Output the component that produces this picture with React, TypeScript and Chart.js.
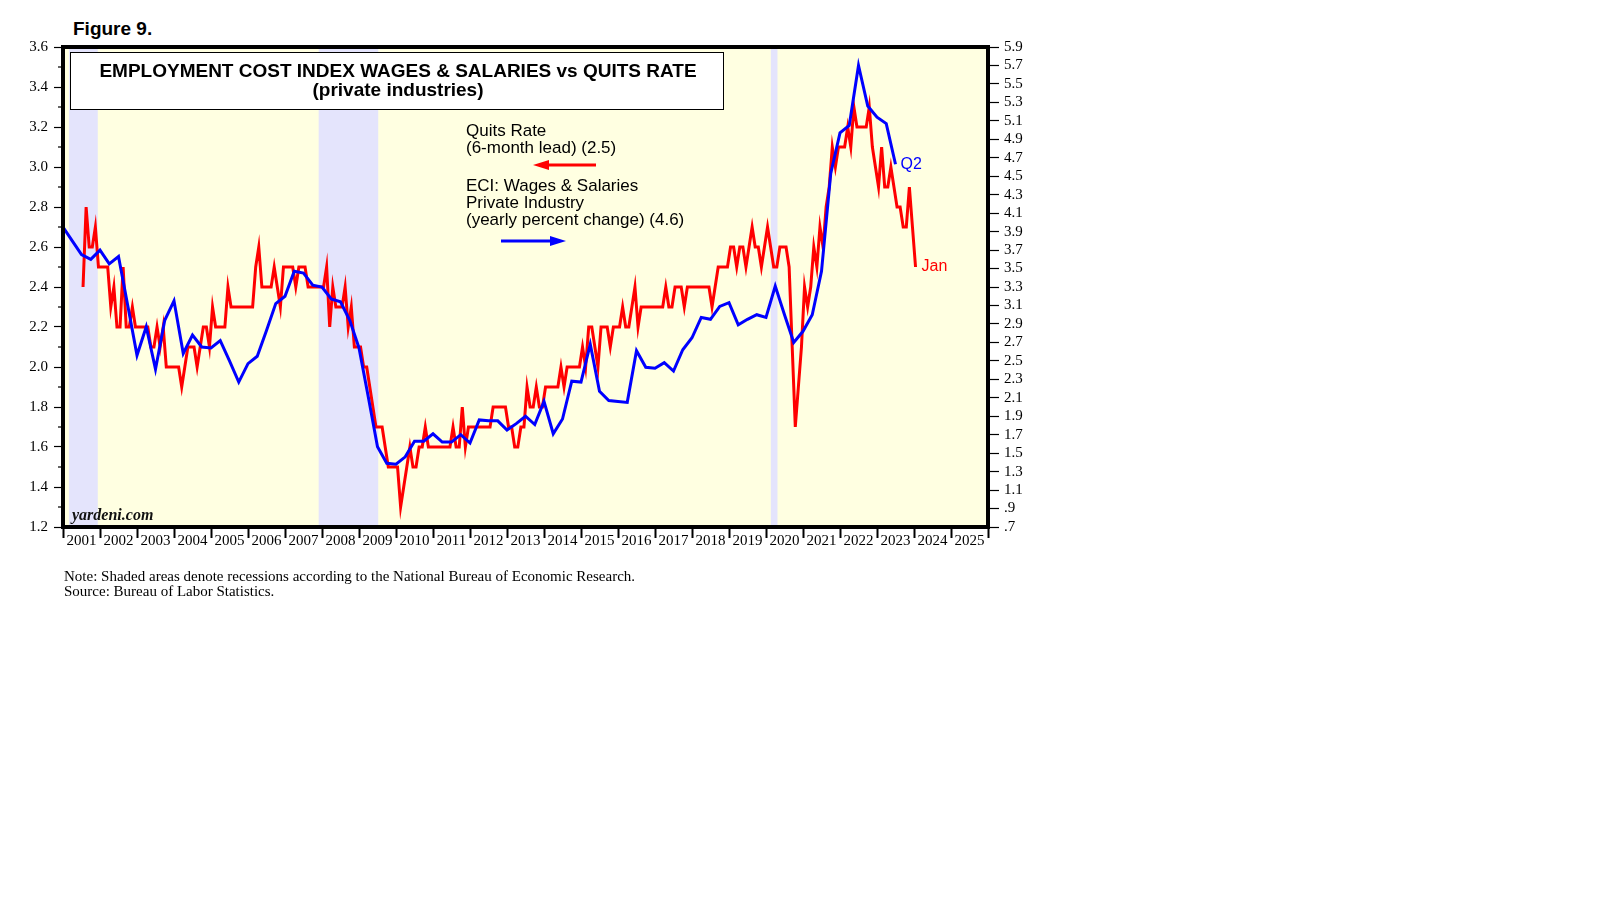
import React, { useEffect, useRef } from 'react'
import { Chart, registerables } from 'chart.js'

Chart.register(...registerables)

// Quits rate, private industries (%), monthly, plotted with a 6-month lead.
// First plotted month is Jul 2001 (Jan 2001 data), last is Jan 2024.
const quitsStartYear = 2001
const quitsStartMonth = 7
const quitsRate = [
  2.4, 2.8, 2.6, 2.6, 2.7, 2.5, 2.5, 2.5, 2.5, 2.3, 2.4, 2.2,
  2.2, 2.5, 2.2, 2.2, 2.3, 2.2, 2.2, 2.2, 2.2, 2.2, 2.1, 2.1,
  2.2, 2.1, 2.2, 2.0, 2.0, 2.0, 2.0, 2.0, 1.9, 2.0, 2.1, 2.1,
  2.1, 2.0, 2.1, 2.2, 2.2, 2.1, 2.3, 2.2, 2.2, 2.2, 2.2, 2.4,
  2.3, 2.3, 2.3, 2.3, 2.3, 2.3, 2.3, 2.3, 2.5, 2.6, 2.4, 2.4,
  2.4, 2.4, 2.5, 2.4, 2.3, 2.5, 2.5, 2.5, 2.5, 2.4, 2.5, 2.5,
  2.5, 2.4, 2.4, 2.4, 2.4, 2.4, 2.4, 2.5, 2.2, 2.4, 2.3, 2.3,
  2.3, 2.4, 2.2, 2.3, 2.1, 2.1, 2.1, 2.0, 2.0, 1.9, 1.8, 1.7,
  1.7, 1.7, 1.6, 1.5, 1.5, 1.5, 1.5, 1.3, 1.4, 1.5, 1.6, 1.5,
  1.5, 1.6, 1.6, 1.7, 1.6, 1.6, 1.6, 1.6, 1.6, 1.6, 1.6, 1.6,
  1.7, 1.6, 1.6, 1.8, 1.6, 1.7, 1.7, 1.7, 1.7, 1.7, 1.7, 1.7,
  1.7, 1.8, 1.8, 1.8, 1.8, 1.8, 1.7, 1.7, 1.6, 1.6, 1.7, 1.7,
  1.9, 1.8, 1.8, 1.9, 1.8, 1.8, 1.9, 1.9, 1.9, 1.9, 1.9, 2.0,
  1.9, 2.0, 2.0, 2.0, 2.0, 2.0, 2.1, 2.0, 2.2, 2.2, 2.1, 2.0,
  2.2, 2.2, 2.2, 2.1, 2.2, 2.2, 2.2, 2.3, 2.2, 2.2, 2.3, 2.4,
  2.2, 2.3, 2.3, 2.3, 2.3, 2.3, 2.3, 2.3, 2.3, 2.4, 2.3, 2.3,
  2.4, 2.4, 2.4, 2.3, 2.4, 2.4, 2.4, 2.4, 2.4, 2.4, 2.4, 2.4,
  2.3, 2.4, 2.5, 2.5, 2.5, 2.5, 2.6, 2.6, 2.5, 2.6, 2.6, 2.5,
  2.6, 2.7, 2.6, 2.6, 2.5, 2.6, 2.7, 2.6, 2.5, 2.5, 2.6, 2.6,
  2.6, 2.5, 2.1, 1.7, 1.9, 2.1, 2.4, 2.3, 2.4, 2.6, 2.5, 2.7,
  2.6, 2.8, 2.9, 3.1, 3.0, 3.1, 3.1, 3.1, 3.2, 3.1, 3.3, 3.2,
  3.2, 3.2, 3.2, 3.3, 3.1, 3.0, 2.9, 3.1, 2.9, 2.9, 3.0, 2.9,
  2.8, 2.8, 2.7, 2.7, 2.9, 2.7, 2.5,
]

// ECI wages & salaries, private industry, yearly % change, quarterly.
// Q4 2000 sits at the start of 2001, Q2 2023 is the last point.
const eciStart = 2001
const eciWages = [
  3.95, 3.8, 3.65, 3.6, 3.7, 3.55, 3.63, 3.1, 2.56, 2.87,
  2.41, 2.94, 3.15, 2.58, 2.78, 2.65, 2.64, 2.72, 2.5, 2.27,
  2.47, 2.55, 2.83, 3.12, 3.2, 3.47, 3.45, 3.32, 3.3, 3.17,
  3.14, 2.94, 2.64, 2.11, 1.57, 1.39, 1.38, 1.46, 1.63, 1.63,
  1.71, 1.62, 1.62, 1.7, 1.61, 1.86, 1.85, 1.85, 1.75, 1.82,
  1.9, 1.81, 2.06, 1.71, 1.87, 2.28, 2.27, 2.68, 2.17, 2.07,
  2.06, 2.05, 2.61, 2.43, 2.42, 2.48, 2.39, 2.62, 2.75, 2.97,
  2.95, 3.09, 3.13, 2.89, 2.95, 3.0, 2.97, 3.31, 3.0, 2.7,
  2.82, 3.0, 3.47, 4.53, 4.97, 5.05, 5.7, 5.26, 5.14, 5.07, 4.63,
]

const recessionStarts = [2001.16, 2007.91, 2020.13]
const recessionEnds = [2001.94, 2009.52, 2020.31]

const yearLabels = [
  '2001', '2002', '2003', '2004', '2005', '2006', '2007', '2008', '2009',
  '2010', '2011', '2012', '2013', '2014', '2015', '2016', '2017', '2018',
  '2019', '2020', '2021', '2022', '2023', '2024', '2025',
]
const leftTicks = [1.2, 1.4, 1.6, 1.8, 2.0, 2.2, 2.4, 2.6, 2.8, 3.0, 3.2, 3.4, 3.6]
const leftMinorTicks = [1.3, 1.5, 1.7, 1.9, 2.1, 2.3, 2.5, 2.7, 2.9, 3.1, 3.3, 3.5]
const rightTicks = [
  0.7, 0.9, 1.1, 1.3, 1.5, 1.7, 1.9, 2.1, 2.3, 2.5, 2.7, 2.9, 3.1, 3.3,
  3.5, 3.7, 3.9, 4.1, 4.3, 4.5, 4.7, 4.9, 5.1, 5.3, 5.5, 5.7, 5.9,
]

const SANS = "'Liberation Sans', Arial, sans-serif"
const SERIF = "'Liberation Serif', 'Times New Roman', serif"

const drawArrow = (ctx, from, to, y, color) => {
  const dir = Math.sign(to - from)
  ctx.strokeStyle = color
  ctx.fillStyle = color
  ctx.lineWidth = 3
  ctx.beginPath()
  ctx.moveTo(from, y)
  ctx.lineTo(to - dir * 12, y)
  ctx.stroke()
  ctx.beginPath()
  ctx.moveTo(to, y)
  ctx.lineTo(to - dir * 16, y - 5)
  ctx.lineTo(to - dir * 16, y + 5)
  ctx.closePath()
  ctx.fill()
}

const decorPlugin = {
  id: 'decor',
  beforeDatasetsDraw(chart) {
    const { ctx, chartArea: a, scales } = chart
    ctx.save()
    ctx.fillStyle = 'rgb(255,255,225)'
    ctx.fillRect(a.left, a.top, a.right - a.left, a.bottom - a.top)
    ctx.fillStyle = 'rgb(228,228,252)'
    recessionStarts.forEach((s, i) => {
      const x0 = scales.x.getPixelForValue(s)
      const x1 = scales.x.getPixelForValue(recessionEnds[i])
      ctx.fillRect(x0, a.top, x1 - x0, a.bottom - a.top)
    })

    // title box
    ctx.fillStyle = '#fff'
    ctx.fillRect(70, 52, 653, 57)
    ctx.strokeStyle = '#000'
    ctx.lineWidth = 1
    ctx.strokeRect(70.5, 52.5, 653, 57)
    ctx.fillStyle = '#000'
    ctx.font = `bold 19px ${SANS}`
    ctx.textAlign = 'center'
    ctx.textBaseline = 'middle'
    ctx.fillText('EMPLOYMENT COST INDEX WAGES & SALARIES vs QUITS RATE', 398, 72)
    ctx.fillText('(private industries)', 398, 91)

    // series notes
    ctx.font = `17px ${SANS}`
    ctx.textAlign = 'left'
    ctx.fillText('Quits Rate', 466, 131)
    ctx.fillText('(6-month lead) (2.5)', 466, 148)
    ctx.fillText('ECI: Wages & Salaries', 466, 186)
    ctx.fillText('Private Industry', 466, 203)
    ctx.fillText('(yearly percent change) (4.6)', 466, 220)
    drawArrow(ctx, 596, 533, 165, '#ff0000')
    drawArrow(ctx, 501, 566, 241, '#0000ff')

    ctx.fillStyle = '#111'
    ctx.font = `bold italic 16px ${SERIF}`
    ctx.fillText('yardeni.com', 72, 516)
    ctx.restore()
  },
  afterDatasetsDraw(chart) {
    const { ctx, chartArea: a, scales } = chart
    ctx.save()
    // end labels
    ctx.font = `16px ${SANS}`
    ctx.textBaseline = 'middle'
    ctx.textAlign = 'left'
    const lastQ = eciStart + (eciWages.length - 1) * 0.25
    ctx.fillStyle = '#0000ff'
    ctx.fillText('Q2', scales.x.getPixelForValue(lastQ) + 5,
      scales.y1.getPixelForValue(eciWages[eciWages.length - 1]))
    const lastM = quitsStartYear + (quitsStartMonth - 1 + quitsRate.length - 1 + 0.5) / 12
    ctx.fillStyle = '#ff0000'
    ctx.fillText('Jan', scales.x.getPixelForValue(lastM) + 6,
      scales.y.getPixelForValue(quitsRate[quitsRate.length - 1]))

    // minor ticks on the left axis
    ctx.strokeStyle = '#000'
    ctx.lineWidth = 1.2
    leftMinorTicks.forEach((v) => {
      const y = scales.y.getPixelForValue(v)
      ctx.beginPath()
      ctx.moveTo(a.left - 5, y)
      ctx.lineTo(a.left, y)
      ctx.stroke()
    })

    // frame
    ctx.lineWidth = 4
    ctx.strokeRect(a.left, a.top, a.right - a.left, a.bottom - a.top)
    ctx.restore()
  },
}

const ChartComponent = () => {
  const chartRef = useRef(null)
  const chartInstanceRef = useRef(null)

  useEffect(() => {
    const ctx = chartRef.current.getContext('2d')

    const quitsPoints = quitsRate.map((v, i) => ({
      x: quitsStartYear + (quitsStartMonth - 1 + i + 0.5) / 12,
      y: v,
    }))
    const eciPoints = eciWages.map((v, i) => ({ x: eciStart + i * 0.25, y: v }))

    const xTicks = []
    yearLabels.forEach((_, i) => {
      xTicks.push({ value: 2001 + i })
      xTicks.push({ value: 2001 + i + 0.5 })
    })
    xTicks.push({ value: 2001 + yearLabels.length })

    const tickFont = { family: SERIF, size: 15 }

    chartInstanceRef.current = new Chart(ctx, {
      type: 'line',
      data: {
        datasets: [
          {
            label: 'ECI: Wages & Salaries',
            data: eciPoints,
            yAxisID: 'y1',
            borderColor: '#0000ff',
            borderWidth: 3,
            pointRadius: 0,
            tension: 0,
            order: 0,
          },
          {
            label: 'Quits Rate',
            data: quitsPoints,
            yAxisID: 'y',
            borderColor: '#ff0000',
            borderWidth: 3,
            pointRadius: 0,
            tension: 0,
            order: 1,
          },
        ],
      },
      options: {
        animation: false,
        responsive: true,
        maintainAspectRatio: false,
        events: [],
        layout: { padding: { left: 0, right: 0, top: 47, bottom: 33 } },
        plugins: { legend: { display: false }, tooltip: { enabled: false } },
        scales: {
          x: {
            type: 'linear',
            min: 2001,
            max: 2026,
            afterBuildTicks: (s) => { s.ticks = xTicks.map((t) => ({ ...t })) },
            afterFit: (s) => { s.height = 40 },
            border: { display: false },
            grid: {
              drawOnChartArea: false,
              tickLength: 11,
              tickWidth: 2,
              tickColor: (c) => (Number.isInteger(c.tick?.value) ? '#000' : 'rgba(0,0,0,0)'),
            },
            ticks: {
              autoSkip: false,
              maxRotation: 0,
              minRotation: 0,
              padding: -6,
              color: '#000',
              font: tickFont,
              callback: (v) => (Number.isInteger(v) ? '' : yearLabels[Math.floor(v) - 2001]),
            },
          },
          y: {
            position: 'left',
            min: 1.2,
            max: 3.6,
            afterBuildTicks: (s) => { s.ticks = leftTicks.map((v) => ({ value: v })) },
            afterFit: (s) => { s.width = 63 },
            border: { display: false },
            grid: { drawOnChartArea: false, tickLength: 9, tickWidth: 1.2, tickColor: '#000' },
            ticks: {
              autoSkip: false,
              padding: 6,
              color: '#000',
              font: tickFont,
              callback: (v) => Number(v).toFixed(1),
            },
          },
          y1: {
            position: 'right',
            min: 0.7,
            max: 5.9,
            afterBuildTicks: (s) => { s.ticks = rightTicks.map((v) => ({ value: v })) },
            afterFit: (s) => { s.width = 42 },
            border: { display: false },
            grid: { drawOnChartArea: false, tickLength: 11, tickWidth: 1.2, tickColor: '#000' },
            ticks: {
              autoSkip: false,
              padding: 5,
              color: '#000',
              font: tickFont,
              callback: (v) => {
                const s = Number(v).toFixed(1)
                return v < 1 ? s.slice(1) : s
              },
            },
          },
        },
      },
      plugins: [decorPlugin],
    })

    return () => {
      chartInstanceRef.current.destroy()
    }
  }, [])

  return (
    <div style={{ position: 'absolute', left: 0, top: 0, width: 1610, height: 910, background: '#fff' }}>
      <div style={{ position: 'absolute', left: 73, top: 19, font: `bold 19px ${SANS}`, lineHeight: '20px' }}>
        Figure 9.
      </div>
      <div style={{ position: 'absolute', left: 0, top: 0, width: 1030, height: 600 }}>
        <canvas ref={chartRef}></canvas>
      </div>
      <div style={{ position: 'absolute', left: 64, top: 569, font: `15px ${SERIF}`, lineHeight: '15px' }}>
        <div>Note: Shaded areas denote recessions according to the National Bureau of Economic Research.</div>
        <div>Source: Bureau of Labor Statistics.</div>
      </div>
    </div>
  )
}

export default function App() {
  return <ChartComponent />
}
